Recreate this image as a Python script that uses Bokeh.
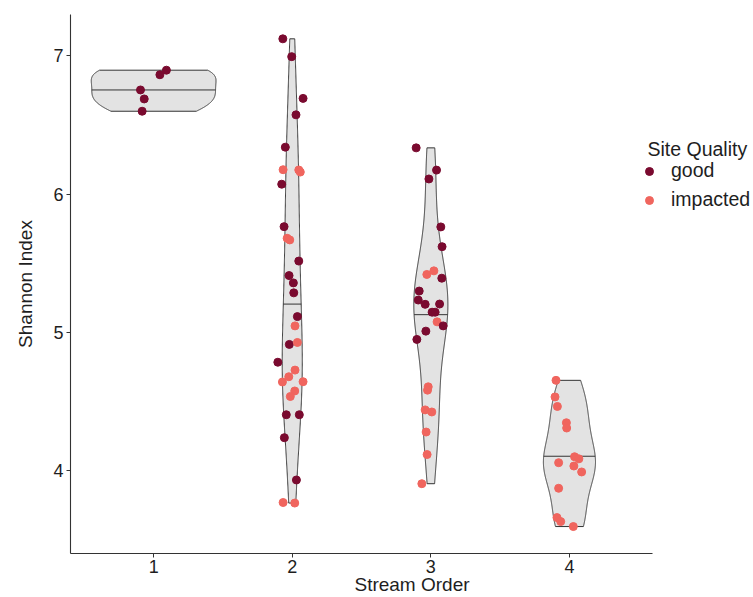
import numpy as np
from bokeh.plotting import figure
from bokeh.models import ColumnDataSource, FixedTicker, Legend, LegendItem, Label, Range1d
from bokeh.embed import file_html
from bokeh.resources import INLINE

# ---------------- data ----------------
stream_orders = [1, 2, 3, 4]
order_tick_labels = {1: "1", 2: "2", 3: "3", 4: "4"}
shannon_ticks = [4, 5, 6, 7]

# Stream order 1
shannon_o1 = [6.897, 6.864, 6.754, 6.689, 6.600]
quality_o1 = ["good", "good", "good", "good", "good"]
jitter_o1 = [0.092, 0.045, -0.095, -0.068, -0.083]

# Stream order 2
shannon_o2 = [7.124, 6.995, 6.693, 6.574, 6.340, 6.177, 6.175, 6.160, 6.072, 5.765,
              5.681, 5.669, 5.516, 5.411, 5.358, 5.286, 5.114, 5.047, 4.913, 4.927,
              4.784, 4.727, 4.679, 4.641, 4.643, 4.576, 4.536, 4.404, 4.404, 4.238,
              3.932, 3.769, 3.765]
quality_o2 = ["good", "good", "good", "good", "good", "impacted", "impacted", "impacted", "good", "good",
              "impacted", "impacted", "good", "good", "good", "good", "good", "impacted", "good", "impacted",
              "good", "impacted", "impacted", "impacted", "impacted", "impacted", "impacted", "good", "good", "good",
              "good", "impacted", "impacted"]
jitter_o2 = [-0.068, -0.004, 0.078, 0.027, -0.050, -0.066, 0.047, 0.058, -0.076, -0.059,
             -0.037, -0.018, 0.047, -0.023, 0.008, 0.011, 0.037, 0.020, -0.021, 0.037,
             -0.104, 0.020, -0.025, -0.071, 0.078, 0.018, -0.014, -0.043, 0.051, -0.057,
             0.030, -0.066, 0.018]

# Stream order 3
shannon_o3 = [6.335, 6.174, 6.110, 5.763, 5.620, 5.419, 5.445, 5.392, 5.299, 5.234,
              5.203, 5.205, 5.146, 5.146, 5.076, 5.047, 5.009, 4.949, 4.606, 4.582,
              4.439, 4.424, 4.279, 4.116, 3.905]
quality_o3 = ["good", "good", "good", "good", "good", "impacted", "impacted", "good", "good", "good",
              "good", "good", "good", "good", "impacted", "good", "good", "good", "impacted", "impacted",
              "impacted", "impacted", "impacted", "impacted", "impacted"]
jitter_o3 = [-0.106, 0.041, -0.014, 0.072, 0.081, -0.029, 0.022, 0.079, -0.084, -0.091,
             -0.041, 0.063, 0.009, 0.031, 0.045, 0.089, -0.036, -0.101, -0.019, -0.024,
             -0.041, 0.007, -0.034, -0.027, -0.065]

# Stream order 4
shannon_o4 = [4.653, 4.533, 4.464, 4.346, 4.308, 4.100, 4.085, 4.057, 4.033, 3.990,
              3.872, 3.660, 3.631, 3.595]
quality_o4 = ["impacted"] * 14
jitter_o4 = [-0.097, -0.104, -0.087, -0.022, -0.020, 0.037, 0.068, -0.078, 0.032, 0.088,
             -0.078, -0.090, -0.063, 0.028]

quality_levels = ["good", "impacted"]
quality_colors = {"good": "#7A0A2F", "impacted": "#F0655E"}

groups = [
    (1, shannon_o1, quality_o1, jitter_o1),
    (2, shannon_o2, quality_o2, jitter_o2),
    (3, shannon_o3, quality_o3, jitter_o3),
    (4, shannon_o4, quality_o4, jitter_o4),
]

FONT = "Liberation Sans"
TXT = "#1E1E1E"

# ---------------- violin densities (ggplot-like: nrd0 bw, trimmed, scale="area") ----------------
def bw_nrd0(v):
    v = np.asarray(v, dtype=float)
    hi = np.std(v, ddof=1)
    q75, q25 = np.percentile(v, [75, 25])
    lo = min(hi, (q75 - q25) / 1.34)
    if lo <= 0:
        lo = hi if hi > 0 else 1.0
    return 0.9 * lo * len(v) ** (-0.2)

def density(v):
    v = np.asarray(v, dtype=float)
    bw = bw_nrd0(v)
    ys = np.linspace(v.min(), v.max(), 512)
    d = np.exp(-0.5 * ((ys[:, None] - v[None, :]) / bw) ** 2).sum(axis=1) / (len(v) * bw * np.sqrt(2 * np.pi))
    return ys, d

dens = [density(g[1]) for g in groups]
dmax = max(d.max() for _, d in dens)
half = 0.9 / 2

# frame spans to the right edge so the legend is not clipped; axis line is bounded
p = figure(width=753, height=597, output_backend="svg", toolbar_location=None,
           x_range=Range1d(0.4, 5.328), y_range=Range1d(3.40, 7.30),
           min_border_left=70, min_border_right=0, min_border_top=14, min_border_bottom=43,
           background_fill_color="white", border_fill_color="white")
p.outline_line_color = None
p.grid.visible = False

vx, vy, mx0, mx1, my = [], [], [], [], []
for (order, vals, _, _), (ys, d) in zip(groups, dens):
    w = d / dmax * half
    vx.append(np.concatenate([order - w, (order + w)[::-1]]))
    vy.append(np.concatenate([ys, ys[::-1]]))
    cdf = np.cumsum(d) / d.sum()
    ym = np.interp(0.5, cdf, ys)
    hw = np.interp(ym, ys, w)
    mx0.append(order - hw); mx1.append(order + hw); my.append(ym)

p.patches(xs=vx, ys=vy, fill_color="#E3E3E3", line_color="#333333", line_width=1)
p.segment(x0=mx0, y0=my, x1=mx1, y1=my, line_color="#333333", line_width=1)

# ---------------- points ----------------
px, py, pq, pc = [], [], [], []
for order, vals, quals, jit in groups:
    for v, q, j in zip(vals, quals, jit):
        px.append(order + j); py.append(v); pq.append(q); pc.append(quality_colors[q])
src = ColumnDataSource(dict(x=px, y=py, quality=pq, color=pc))
pts = p.scatter(x="x", y="y", source=src, size=8, fill_color="color", line_color="color")

# legend entries (glyph taken from the first point of each level)
items = [LegendItem(label=q, renderers=[pts], index=pq.index(q)) for q in quality_levels]
legend = Legend(items=items, location=(569, 342), padding=0, margin=0,
                glyph_width=20, glyph_height=20, spacing=6, label_standoff=12,
                label_text_font=FONT, label_text_font_size="19.5px", label_text_color=TXT,
                background_fill_alpha=0, border_line_alpha=0)
p.add_layout(legend, "center")
p.add_layout(Label(x=4.563, y=6.33, text="Site Quality", text_font=FONT, text_font_size="19.5px",
                   text_color=TXT, text_baseline="alphabetic", text_align="left"))

# ---------------- axes ----------------
p.xaxis.ticker = FixedTicker(ticks=stream_orders)
p.xaxis.major_label_overrides = order_tick_labels
p.xaxis.bounds = (0.4, 4.6)
p.yaxis.ticker = FixedTicker(ticks=shannon_ticks)
p.xaxis.axis_label = "Stream Order"
p.yaxis.axis_label = "Shannon Index"
for ax in (p.xaxis, p.yaxis):
    ax.axis_label_text_font = FONT
    ax.axis_label_text_font_size = "19px"
    ax.axis_label_text_font_style = "normal"
    ax.axis_label_text_color = TXT
    ax.major_label_text_font = FONT
    ax.major_label_text_font_size = "18px"
    ax.major_label_text_color = TXT
    ax.axis_line_color = "#333333"
    ax.axis_line_width = 1.1
    ax.major_tick_line_color = "#333333"
    ax.major_tick_out = 4
    ax.major_tick_in = 0
    ax.minor_tick_line_color = None
p.xaxis.major_label_standoff = 2
p.xaxis.axis_label_standoff = -2
p.yaxis.major_label_standoff = 3
p.yaxis.axis_label_standoff = 14

open("out.html", "w").write(file_html(p, INLINE))
